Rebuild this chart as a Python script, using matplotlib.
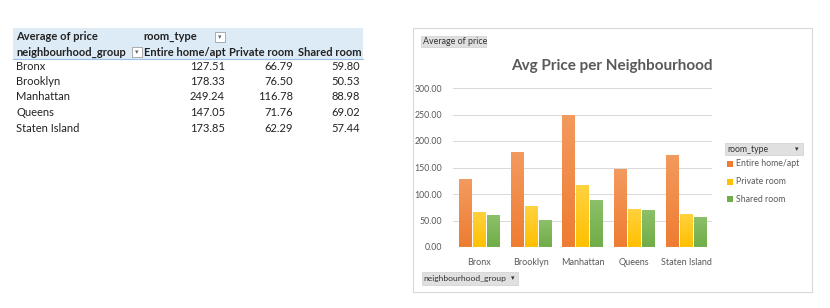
import matplotlib
matplotlib.use("Agg")
import matplotlib.pyplot as plt
from matplotlib.patches import Rectangle
from matplotlib.colors import LinearSegmentedColormap
import numpy as np

neighbourhoods = ["Bronx", "Brooklyn", "Manhattan", "Queens", "Staten Island"]
room_types = ["Entire home/apt", "Private room", "Shared room"]
entire_home = [127.51, 178.33, 249.24, 147.05, 173.85]
private_room = [66.79, 76.50, 116.78, 71.76, 62.29]
shared_room = [59.80, 50.53, 88.98, 69.02, 57.44]
yticks = [0, 50, 100, 150, 200, 250, 300]

colors = ["#EE7D32", "#FFC000", "#70AD47"]
tops = ["#F39A5E", "#FFD23F", "#8CC06A"]
TXT = "#595959"
FONT = "Lato"

W, H = 830, 308
fig = plt.figure(figsize=(W / 100, H / 100), dpi=100)
fig.patch.set_facecolor("white")


def fx(x):
    return x / W


def fy(y):
    return 1 - y / H


def prect(x0, y0, x1, y1, **kw):
    fig.patches.append(Rectangle((fx(x0), fy(y1)), fx(x1 - x0), (y1 - y0) / H,
                                 transform=fig.transFigure, figure=fig, **kw))


def ptext(x, y, s, **kw):
    kw.setdefault("family", FONT)
    kw.setdefault("va", "center")
    fig.text(fx(x), fy(y), s, **kw)


# ---------------- pivot table ----------------
prect(13, 28, 363, 59, facecolor="#DDEBF7", edgecolor="none")
fig.add_artist(plt.Line2D([fx(13), fx(363)], [fy(59), fy(59)], color="#9BC2E6", lw=0.8,
                          transform=fig.transFigure))
ptext(16, 37, "Average of price", fontsize=8, weight="bold", color="#222222")
ptext(143, 37, "room_type", fontsize=8, weight="bold", color="#222222")
ptext(16, 52, "neighbourhood_group", fontsize=8, weight="bold", color="#222222")
# filter buttons
for (bx, by) in [(215, 37), (132, 52)]:
    prect(bx, by - 5, bx + 10, by + 5, facecolor="white", edgecolor="#A0A0A0", lw=0.6)
    ptext(bx + 5, by, "▾", fontsize=5, ha="center", color="#666666", family="DejaVu Sans")
ptext(144, 52, "Entire home/apt", fontsize=8, weight="bold", color="#222222")
ptext(229, 52, "Private room", fontsize=8, weight="bold", color="#222222")
ptext(298, 52, "Shared room", fontsize=8, weight="bold", color="#222222")

row_y = [67, 82, 97, 113, 129]
for i, n in enumerate(neighbourhoods):
    ptext(16, row_y[i], n, fontsize=8, color="#222222")
    ptext(225, row_y[i], f"{entire_home[i]:.2f}", fontsize=8, ha="right", color="#222222")
    ptext(293, row_y[i], f"{private_room[i]:.2f}", fontsize=8, ha="right", color="#222222")
    ptext(360, row_y[i], f"{shared_room[i]:.2f}", fontsize=8, ha="right", color="#222222")

# ---------------- chart ----------------
prect(413, 28, 812, 292, facecolor="white", edgecolor="#D9D9D9", lw=0.8)

# field buttons
prect(421, 36, 486, 47, facecolor="#E0E0E0", edgecolor="#CFCFCF", lw=0.5)
ptext(422.5, 41.5, "Average of price", fontsize=6.4, color="#333333")
prect(422, 272, 518, 285, facecolor="#E0E0E0", edgecolor="#CFCFCF", lw=0.5)
ptext(423.5, 278.5, "neighbourhood_group", fontsize=6.1, color="#333333")
ptext(512.5, 278.5, "▾", fontsize=5, ha="center", color="#333333", family="DejaVu Sans")
prect(725, 143, 803, 155, facecolor="#E0E0E0", edgecolor="#CFCFCF", lw=0.5)
ptext(727.5, 149, "room_type", fontsize=6.2, color="#333333")
ptext(797, 149, "▾", fontsize=5, ha="center", color="#333333", family="DejaVu Sans")

ptext(612, 66, "Avg Price per Neighbourhood", fontsize=11, weight="bold", color=TXT, ha="center")

ax_l, ax_r, ax_t, ax_b = 453, 712, 88, 247
ax = fig.add_axes([fx(ax_l), fy(ax_b), fx(ax_r - ax_l), (ax_b - ax_t) / H])
ax.set_zorder(10)
ax.patch.set_alpha(0)
x = np.arange(len(neighbourhoods))
bw = 0.235
step = 0.27
series = [entire_home, private_room, shared_room]
ax.set_xlim(-0.5, len(neighbourhoods) - 0.5)
ax.set_ylim(0, 300)
grad = np.linspace(0, 1, 64).reshape(-1, 1)
for k, (vals, c) in enumerate(zip(series, colors)):
    bars = ax.bar(x + (k - 1) * step, vals, width=bw, color=c, zorder=3, label=room_types[k])
    cmap = LinearSegmentedColormap.from_list(f"g{k}", [c, tops[k]])
    for b in bars:
        x0, y0 = b.get_x(), b.get_y()
        im = ax.imshow(grad, extent=(x0, x0 + b.get_width(), y0, y0 + b.get_height()),
                       origin="lower", cmap=cmap, aspect="auto", zorder=3.5,
                       interpolation="bilinear")
        im.set_clip_path(b)
ax.set_xlim(-0.5, len(neighbourhoods) - 0.5)
ax.set_ylim(0, 300)
ax.set_yticks(yticks)
ax.set_yticklabels([f"{v:.2f}" for v in yticks], fontsize=6.3, color=TXT, family=FONT)
ax.set_xticks(x)
ax.set_xticklabels(neighbourhoods, fontsize=6.5, color=TXT, family=FONT)
ax.tick_params(axis="x", length=0, pad=8)
ax.tick_params(axis="y", length=0, pad=8)
ax.grid(axis="y", color="#D9D9D9", lw=0.7, zorder=0)
ax.set_axisbelow(True)
for s in ax.spines.values():
    s.set_visible(False)
ax.axhline(0, color="#D9D9D9", lw=0.8, zorder=4)

# legend
leg_y = [164, 182, 199]
for k in range(3):
    prect(727, leg_y[k] - 3, 733, leg_y[k] + 3, facecolor=colors[k], edgecolor="none")
    ptext(735.5, leg_y[k], room_types[k], fontsize=6.3, color=TXT)

fig.savefig("out.png", dpi=100)
